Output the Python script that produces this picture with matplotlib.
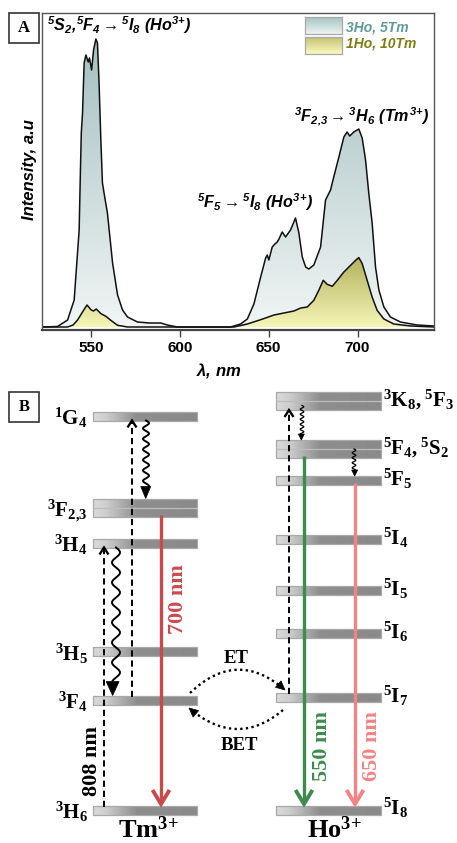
import numpy as np
import matplotlib
matplotlib.use("Agg")
import matplotlib.pyplot as plt
from matplotlib.colors import LinearSegmentedColormap
from matplotlib.patches import Rectangle, Polygon

plt.rcParams['mathtext.fontset'] = 'custom'
plt.rcParams['mathtext.rm'] = 'Liberation Sans:italic:bold'
plt.rcParams['mathtext.it'] = 'Liberation Sans:italic:bold'
plt.rcParams['mathtext.bf'] = 'Liberation Serif:bold'
plt.rcParams['mathtext.fallback'] = 'stixsans'

# ------------------------- DATA: panel A (spectra) -------------------------
wl_3ho = [523, 531.2, 536.9, 540.6, 543.4, 544.0, 544.6, 545.3, 546.2, 547.2, 548.5,
          549.2, 550.4, 551.5, 552.8, 553.7, 554.6, 555.6, 556.5, 557.4, 559.3,
          562.2, 565, 567.8, 570.6, 576.2, 583, 589.3, 593, 598.7, 628.6, 634.2,
          638, 641.7, 645.5, 648.3, 649.2, 650.1, 652, 653.5, 654.8, 655.8, 657.6,
          659.5, 662.3, 665.1, 667, 668.9, 670.8, 672.6, 675.4, 679.2, 682, 684.8,
          686.6, 689.5, 692.3, 694.1, 695.6, 697.9, 700.7, 702.6, 704.5, 706.3,
          708.2, 710.1, 712, 714.8, 718.5, 724.1, 733.5, 743]
int_3ho = [0, 0.5, 7, 27, 97, 147, 194, 214, 264, 272, 265,
           269, 257, 277, 288, 284, 244, 187, 144, 134, 114,
           64, 32, 17, 10, 5, 4, 4, 2, 0, 0, 3,
           8, 23, 50, 69, 72, 67, 80, 83, 85, 88, 95,
           90, 97, 109, 94, 70, 60, 58, 62, 80, 127, 137,
           150, 170, 190, 195, 191, 195, 198, 189, 167, 134,
           104, 60, 37, 20, 10, 5, 2, 1]

wl_1ho = [523, 536.9, 540, 542.5, 545.3, 547.8, 550.2, 551.5, 553, 555.6, 558.4,
          561.2, 565, 570.6, 630.5, 638, 645.5, 653, 658.6, 664.2, 668, 671.7,
          675.4, 678.2, 680.7, 682.9, 685.8, 688.6, 692.3, 696.1, 698.9, 700.7,
          702.6, 705.4, 708.2, 711, 714.8, 720.4, 729.8, 743]
int_1ho = [0, 0, 2, 7, 15, 22, 17, 16, 18, 13.4, 10.7,
           6.7, 1.7, 0, 0, 3, 7.3, 12, 14, 16, 19, 20,
           26.7, 36.7, 46.7, 42.7, 40.7, 46.7, 55, 61.7, 66.7, 69.4,
           63.4, 46.7, 30, 16.7, 8, 3, 1, 0]

series_labels = ['3Ho, 5Tm', '1Ho, 10Tm']
xticks = [550, 600, 650, 700]

# ------------------------- DATA: panel B (energy levels) -------------------------
tm_names = ['3H6', '3F4', '3H5', '3H4', '3F23', '1G4']
tm_labels = [r'$\mathbf{{}^{3}H_{6}}$', r'$\mathbf{{}^{3}F_{4}}$', r'$\mathbf{{}^{3}H_{5}}$',
             r'$\mathbf{{}^{3}H_{4}}$', r'$\mathbf{{}^{3}F_{2{,}3}}$', r'$\mathbf{{}^{1}G_{4}}$']
tm_energy = [0, 110, 158.5, 267, 302.5, 394]
tm_double = [False, False, False, False, True, False]

ho_names = ['5I8', '5I7', '5I6', '5I5', '5I4', '5F5', '5F4', '3K8']
ho_labels = [r'$\mathbf{{}^{5}I_{8}}$', r'$\mathbf{{}^{5}I_{7}}$', r'$\mathbf{{}^{5}I_{6}}$',
             r'$\mathbf{{}^{5}I_{5}}$', r'$\mathbf{{}^{5}I_{4}}$', r'$\mathbf{{}^{5}F_{5}}$',
             r'$\mathbf{{}^{5}F_{4},{}^{5}S_{2}}$', r'$\mathbf{{}^{3}K_{8},{}^{5}F_{3}}$']
ho_energy = [0, 112.5, 176.3, 219.5, 270.5, 329.5, 361, 409]
ho_double = [False, False, False, False, False, False, True, True]

# (ion, from, to, label, colour)
emissions = [('Tm', '3F23', '3H6', '700 nm', '#c94a4c'),
             ('Ho', '5F4', '5I8', '550 nm', '#3e8b4e'),
             ('Ho', '5F5', '5I8', '650 nm', '#f28486')]
pumps = [('Tm', '3H6', '3H4', '808 nm'), ('Tm', '3F4', '1G4', ''), ('Ho', '5I7', '3K8', '')]
relaxations = [('Tm', '1G4', '3F23'), ('Tm', '3H4', '3F4'), ('Ho', '3K8', '5F4'), ('Ho', '5F4', '5F5')]
transfers = [('ET', ('Tm', '3F4'), ('Ho', '5I7')), ('BET', ('Ho', '5I7'), ('Tm', '3F4'))]

# ------------------------- FIGURE -------------------------
W, H = 457, 843
fig = plt.figure(figsize=(W / 100, H / 100), dpi=100)


def fx(x):
    return x / W


def fy(y):
    return 1 - y / H


sans_bi = dict(family='Liberation Sans', weight='bold', style='italic')
serif_b = dict(family='Liberation Serif', weight='bold')

# ---------- Panel A ----------
ax = fig.add_axes([fx(42), fy(330), 392 / W, 317 / H])


def grad_fill(ax, x, y, c_bot, c_top, z):
    x = np.asarray(x, float)
    y = np.asarray(y, float)
    coll = ax.fill_between(x, 0, y, facecolor='none', edgecolor='none', zorder=z)
    cmap = LinearSegmentedColormap.from_list('g', [c_bot, c_top])
    img = ax.imshow(np.linspace(0, 1, 256)[:, None], cmap=cmap, origin='lower', aspect='auto',
                    extent=[x.min(), x.max(), 0, y.max()], zorder=z, interpolation='bilinear')
    img.set_clip_path(coll.get_paths()[0], transform=ax.transData)
    ax.plot(x, y, color='#111111', lw=1.1, zorder=z + 0.5)


grad_fill(ax, wl_3ho, int_3ho, '#f1f5f5', '#a5c0c0', 1)
grad_fill(ax, wl_1ho, int_1ho, '#f6f6b8', '#b3b15e', 2)

ax.set_xlim(522.5, 743)
ax.set_ylim(-3, 314)
ax.set_xticks(xticks)
ax.set_yticks([])
ax.tick_params(axis='x', direction='out', length=5, width=1, color='#444444', pad=3)
for lab in ax.get_xticklabels():
    lab.set_fontfamily('Liberation Sans')
    lab.set_fontweight('bold')
    lab.set_fontsize(11)
for s in ax.spines.values():
    s.set_color('#555555')
    s.set_linewidth(1.0)
ax.spines['bottom'].set_linewidth(1.6)
ax.spines['bottom'].set_color('#444444')

fig.text(fx(29.5), fy(170), 'Intensity, a.u', rotation=90, ha='center', va='center', fontsize=12, **sans_bi)
fig.text(fx(196), fy(375), r'$\lambda$, nm', ha='left', va='baseline', fontsize=12, **sans_bi)

fig.text(fx(47), fy(31), r'${}^{5}S_{2}{,}{}^{5}F_{4}\rightarrow{}^{5}I_{8}\ (Ho^{3{+}})$', fontsize=11.6,
         ha='left', va='baseline', **sans_bi)
fig.text(fx(197), fy(208), r'${}^{5}F_{5}\rightarrow{}^{5}I_{8}\ (Ho^{3{+}})$', fontsize=11.6,
         ha='left', va='baseline', **sans_bi)
fig.text(fx(294), fy(122), r'${}^{3}F_{2{,}3}\rightarrow{}^{3}H_{6}\ (Tm^{3{+}})$', fontsize=11.6,
         ha='left', va='baseline', **sans_bi)

# legend
leg_cols = [('#eef3f3', '#a6c3c3', '#5f9a9a'), ('#fafabf', '#c4c272', '#7f7e14')]
leg_rows = [(17, 34, 31), (37, 54, 48)]
for (cb, ct, tc), (y0, y1, yb), lab in zip(leg_cols, leg_rows, series_labels):
    lax = fig.add_axes([fx(305), fy(y1), 37 / W, (y1 - y0) / H])
    lax.imshow(np.linspace(0, 1, 64)[:, None], origin='lower', aspect='auto',
               cmap=LinearSegmentedColormap.from_list('l', [cb, ct]), interpolation='bilinear')
    lax.set_xticks([])
    lax.set_yticks([])
    for s in lax.spines.values():
        s.set_color('#a8a8a8')
        s.set_linewidth(0.9)
    fig.text(fx(346), fy(yb), lab, color=tc, fontsize=10, ha='left', va='baseline', **sans_bi)

# box labels
for lab, y0 in [('A', 13), ('B', 392)]:
    fig.add_artist(Rectangle((fx(9), fy(y0 + 30)), 30 / W, 30 / H, transform=fig.transFigure,
                             fill=False, ec='#333333', lw=1.2))
    fig.text(fx(24), fy(y0 + 15), lab, ha='center', va='center', fontsize=12, **serif_b)

# ---------- Panel B ----------
bx = fig.add_axes([0, 0, 1, (843 - 365) / 843])
bx.set_xlim(0, 457)
bx.set_ylim(-33, 445)
bx.axis('off')

layout = {'Tm': (93, 197), 'Ho': (276, 381)}
levels = {'Tm': dict(zip(tm_names, zip(tm_energy, tm_double))),
          'Ho': dict(zip(ho_names, zip(ho_energy, ho_double)))}

bar_cmap = LinearSegmentedColormap.from_list(
    'bar', [(0, '#dadada'), (0.12, '#cfcfcf'), (0.42, '#8e8e8e'), (1, '#8a8a8a')])


def half(ion, name):
    e, d = levels[ion][name]
    return e, (9.0 if d else 4.5)


def draw_level(x0, x1, e, double):
    h = 18 if double else 9
    bx.imshow(np.linspace(0, 1, 256)[None, :], cmap=bar_cmap, aspect='auto',
              extent=[x0, x1, e - h / 2, e + h / 2], zorder=2, interpolation='bilinear')
    bx.add_patch(Rectangle((x0, e - h / 2), x1 - x0, h, fill=False, ec='#a9a9a9', lw=0.9, zorder=2.1))
    if double:
        bx.plot([x0, x1], [e, e], color='#bdbdbd', lw=0.9, zorder=2.1)


for e, d, lab in zip(tm_energy, tm_double, tm_labels):
    draw_level(*layout['Tm'], e, d)
    bx.text(88, e - 9, lab, ha='right', va='baseline', fontsize=15)
for e, d, lab in zip(ho_energy, ho_double, ho_labels):
    draw_level(*layout['Ho'], e, d)
    bx.text(383, e - 5, lab, ha='left', va='baseline', fontsize=15)


def tri_head(tip, direction, length, width, color, z=5):
    d = np.asarray(direction, float)
    d = d / np.hypot(*d)
    n = np.array([-d[1], d[0]])
    tip = np.asarray(tip, float)
    base = tip - d * length
    bx.add_patch(Polygon([tip, base + n * width / 2, base - n * width / 2], closed=True,
                         fc=color, ec=color, lw=0.5, zorder=z))


# pumps (dashed, upward)
pump_x = [104, 132, 289]
for (ion, a, b, lab), x in zip(pumps, pump_x):
    ea, ha = half(ion, a)
    eb, hb = half(ion, b)
    y0, tip = ea + ha - 1, eb - hb
    bx.plot([x, x], [y0, tip - 1], color='k', lw=1.4, ls=(0, (3.2, 2.0)), zorder=4)
    bx.plot([x - 4.5, x, x + 4.5], [tip - 7, tip, tip - 7], color='k', lw=1.7, zorder=4,
            solid_joinstyle='miter', solid_capstyle='butt')
    if lab:
        bx.text(92, 49, lab, rotation=90, ha='center', va='center', fontsize=16, **serif_b)

# emissions
emis_x = [161, 304, 355]
emis_lab = [(178, 211), (322, 64), (372, 64)]
for (ion, a, b, lab, col), x, (lx, ly) in zip(emissions, emis_x, emis_lab):
    ea, ha = half(ion, a)
    eb, hb = half(ion, b)
    y0 = ea - ha + 2
    tip = eb + hb + 1.5
    bx.plot([x, x], [y0, tip + 1.5], color=col, lw=2.4, solid_capstyle='butt', zorder=4)
    bx.plot([x - 8.5, x, x + 8.5], [tip + 14, tip, tip + 14], color=col, lw=2.8, zorder=4,
            solid_joinstyle='miter', solid_capstyle='butt')
    bx.text(lx, ly, lab, rotation=90, ha='center', va='center', color=col, fontsize=16, **serif_b)

# non-radiative relaxations (wavy)
relax_style = [(146, 0, 3.0, 10.5, 12, 10, 1.4), (116, 0, 4.0, 20, 14, 13, 1.4),
               (302, 0.25, 1.8, 5.0, 6, 6, 0.9), (354, 0.5, 1.8, 5.0, 6, 6, 0.9)]
for (ion, a, b), (x, frac, amp, wl, hl, hw, lw) in zip(relaxations, relax_style):
    ea, ha = half(ion, a)
    eb, hb = half(ion, b)
    e_start = ea - ha + frac * 2 * ha
    e_tip = eb + hb
    ee = np.linspace(e_start, e_tip + hl * 0.8, 400)
    xx = x + amp * np.sin(2 * np.pi * (e_start - ee) / wl)
    bx.plot(xx, ee, color='k', lw=lw, zorder=4)
    tri_head((xx[-1], e_tip), (0, -1), hl, hw, 'k')

# energy transfer (dotted curved)
tr_geom = [((190, 117), (237, 162), (285, 120), (236, 151.5)),
           ((283, 100), (237, 61), (189, 102), (239, 65))]
for (lab, src, dst), (p0, pc, p1, lp) in zip(transfers, tr_geom):
    p0, pc, p1 = np.array(p0, float), np.array(pc, float), np.array(p1, float)
    t = np.linspace(0, 1, 200)[:, None]
    P = (1 - t) ** 2 * p0 + 2 * (1 - t) * t * pc + t ** 2 * p1
    keep = np.hypot(*(P - p1).T) > 7
    bx.plot(P[keep, 0], P[keep, 1], color='k', lw=1.7, ls=(0, (1.0, 1.4)), zorder=4)
    tri_head(p1, p1 - pc, 9, 8.5, 'k')
    bx.text(lp[0], lp[1], lab, ha='center', va='center', fontsize=13.5, **serif_b)

# ion labels
bx.text(148, -28, r'$\mathbf{Tm^{3{+}}}$', ha='center', va='baseline', fontsize=19)
bx.text(334, -28, r'$\mathbf{Ho^{3{+}}}$', ha='center', va='baseline', fontsize=19)

fig.savefig('out.png', dpi=100)
